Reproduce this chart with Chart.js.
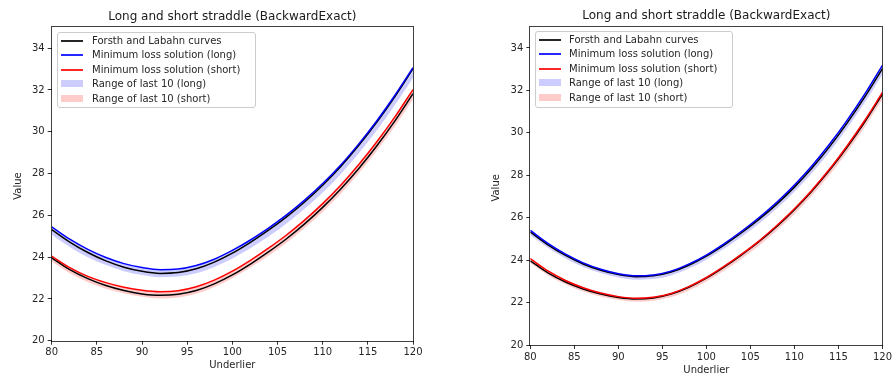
<!DOCTYPE html>
<html>
<head>
<meta charset="utf-8">
<script src="https://cdn.jsdelivr.net/npm/chart.js@4/dist/chart.umd.min.js"></script>
<style>
  html, body { margin: 0; padding: 0; background: #fff; }
  body { width: 894px; height: 373px; position: relative; overflow: hidden; font-family: 'DejaVu Sans', sans-serif; }
  .wrap { position: absolute; top: 0; height: 373px; }
  .legend {
    position: absolute; box-sizing: border-box;
    background: rgba(255,255,255,0.8); border: 1px solid #cccccc; border-radius: 3px;
    font-size: 10px; color: #262626;
  }
  .lg-row { position: absolute; left: 0; right: 0; height: 14px; }
  .lg-line { position: absolute; width: 22px; height: 2px; top: 6px; opacity: 0.85; }
  .lg-patch { position: absolute; width: 22px; height: 7px; top: 3px; box-sizing: border-box; }
  .lg-text { position: absolute; top: 0; line-height: 13px; white-space: nowrap; }
</style>
</head>
<body>
<div class="wrap" style="left:0;width:440px"><canvas id="chartLeft" width="440" height="373"></canvas></div>
<div class="wrap" style="left:470px;width:424px"><canvas id="chartRight" width="424" height="373"></canvas></div>
<div class="legend" id="legendLeft" style="left:57px;top:32px;width:199px;height:76px"></div>
<div class="legend" id="legendRight" style="left:535px;top:31px;width:198px;height:77px"></div>

<script>
// ── DATA ──
const underlier = [80, 82, 84, 86, 88, 90, 92, 94, 96, 98, 100, 102, 104, 106, 108, 110, 112, 114, 116, 118, 120];
const xTicks = [80, 85, 90, 95, 100, 105, 110, 115, 120];
const yTicks = [20, 22, 24, 26, 28, 30, 32, 34];

// Forsth and Labahn curves (same in both panels)
const flLong  = [25.32, 24.72, 24.22, 23.82, 23.52, 23.32, 23.22, 23.26, 23.44, 23.76, 24.19, 24.71, 25.29, 25.93, 26.64, 27.44, 28.34, 29.35, 30.47, 31.69, 33.02];
const flShort = [23.97, 23.40, 22.97, 22.64, 22.40, 22.24, 22.17, 22.22, 22.40, 22.72, 23.15, 23.67, 24.25, 24.88, 25.59, 26.38, 27.26, 28.24, 29.33, 30.52, 31.82];

// left panel
const longL    = [25.45, 24.86, 24.37, 23.98, 23.69, 23.50, 23.40, 23.43, 23.60, 23.90, 24.32, 24.82, 25.39, 26.02, 26.73, 27.52, 28.41, 29.42, 30.53, 31.75, 33.07];
const longLHi  = [25.42, 24.83, 24.34, 23.95, 23.66, 23.47, 23.37, 23.40, 23.57, 23.87, 24.29, 24.79, 25.36, 25.99, 26.70, 27.49, 28.38, 29.39, 30.50, 31.72, 33.04];
const longLLo  = [25.07, 24.49, 24.00, 23.62, 23.33, 23.14, 23.04, 23.07, 23.23, 23.53, 23.94, 24.43, 24.99, 25.61, 26.31, 27.09, 27.97, 28.97, 30.07, 31.28, 32.59];
const shortL   = [24.05, 23.50, 23.08, 22.78, 22.56, 22.41, 22.34, 22.39, 22.58, 22.90, 23.33, 23.85, 24.43, 25.06, 25.77, 26.56, 27.44, 28.43, 29.52, 30.71, 32.02];
const shortLHi = [24.03, 23.48, 23.06, 22.76, 22.54, 22.39, 22.32, 22.37, 22.56, 22.88, 23.31, 23.83, 24.41, 25.04, 25.75, 26.54, 27.42, 28.41, 29.50, 30.69, 32.00];
const shortLLo = [23.79, 23.23, 22.80, 22.49, 22.26, 22.10, 22.02, 22.07, 22.25, 22.57, 22.99, 23.50, 24.07, 24.69, 25.39, 26.16, 27.03, 28.01, 29.09, 30.26, 31.56];

// right panel
const longR    = [25.40, 24.79, 24.28, 23.87, 23.57, 23.36, 23.26, 23.30, 23.48, 23.81, 24.24, 24.77, 25.36, 26.01, 26.73, 27.54, 28.45, 29.47, 30.60, 31.83, 33.18];
const longRHi  = [25.44, 24.83, 24.32, 23.91, 23.61, 23.40, 23.30, 23.34, 23.52, 23.85, 24.28, 24.81, 25.40, 26.05, 26.77, 27.58, 28.49, 29.51, 30.64, 31.87, 33.22];
const longRLo  = [25.18, 24.58, 24.08, 23.68, 23.39, 23.18, 23.08, 23.11, 23.28, 23.60, 24.02, 24.53, 25.10, 25.73, 26.43, 27.22, 28.11, 29.11, 30.22, 31.43, 32.75];
const shortR   = [24.07, 23.49, 23.04, 22.70, 22.45, 22.28, 22.20, 22.25, 22.43, 22.75, 23.18, 23.70, 24.28, 24.91, 25.63, 26.42, 27.31, 28.29, 29.39, 30.59, 31.90];
const shortRHi = [24.10, 23.52, 23.07, 22.73, 22.48, 22.31, 22.23, 22.28, 22.46, 22.78, 23.21, 23.73, 24.31, 24.94, 25.66, 26.45, 27.34, 28.32, 29.42, 30.62, 31.93];
const shortRLo = [23.86, 23.29, 22.85, 22.52, 22.28, 22.12, 22.04, 22.09, 22.26, 22.57, 22.99, 23.50, 24.07, 24.69, 25.40, 26.17, 27.05, 28.02, 29.10, 30.29, 31.58];

const legendLabels = [
  'Forsth and Labahn curves',
  'Minimum loss solution (long)',
  'Minimum loss solution (short)',
  'Range of last 10 (long)',
  'Range of last 10 (short)'
];
const titleText = 'Long and short straddle (BackwardExact)';

const BLUE = '#0000ff', RED = '#ff0000', BLACK = '#000000';
const BLUE_FILL = 'rgba(0,0,255,0.2)', RED_FILL = 'rgba(255,0,0,0.2)';
const FONT = "'DejaVu Sans', sans-serif";

const pts = arr => arr.map((v, i) => ({ x: underlier[i], y: v }));

function line(data, color, order) {
  return { data: pts(data), borderColor: color, borderWidth: 1.5, pointRadius: 0,
           fill: false, cubicInterpolationMode: 'monotone', order };
}
function band(data, color, fill) {
  return { data: pts(data), borderWidth: 0, borderColor: 'transparent', backgroundColor: color,
           pointRadius: 0, fill, cubicInterpolationMode: 'monotone', order: 10 };
}

// frame + title + axis labels drawn around the chart area, like matplotlib axes
const axesDeco = {
  id: 'axesDeco',
  afterDraw(chart) {
    const { ctx, chartArea: a } = chart;
    ctx.save();
    ctx.strokeStyle = 'rgba(0,0,0,0.75)';
    ctx.lineWidth = 1;
    ctx.strokeRect(Math.round(a.left) - 0.5, Math.round(a.top) - 0.5,
                   Math.round(a.right) - Math.round(a.left) + 1, Math.round(a.bottom) - Math.round(a.top) + 1);
    const cx = (a.left + a.right) / 2;
    ctx.fillStyle = '#1a1a1a';
    ctx.textAlign = 'center';
    ctx.textBaseline = 'middle';
    ctx.font = '12px ' + FONT;
    ctx.fillText(titleText, cx, a.top - 10.5);
    ctx.fillStyle = '#262626';
    ctx.font = '10px ' + FONT;
    ctx.fillText('Underlier', cx, a.bottom + 25);
    ctx.translate(a.left - 33.5, (a.top + a.bottom) / 2 + 2);
    ctx.rotate(-Math.PI / 2);
    ctx.fillText('Value', 0, 0);
    ctx.restore();
  }
};

function makeChart(id, box, series) {
  const [lHi, lLo, sHi, sLo, lng, sht] = series;
  new Chart(document.getElementById(id), {
    type: 'line',
    data: {
      datasets: [
        band(lHi, BLUE_FILL, '+1'),
        band(lLo, 'transparent', false),
        band(sHi, RED_FILL, '+1'),
        band(sLo, 'transparent', false),
        line(flLong, BLACK, 3),
        line(flShort, BLACK, 3),
        line(lng, BLUE, 2),
        line(sht, RED, 2),
      ]
    },
    options: {
      responsive: false,
      animation: false,
      events: [],
      layout: { padding: { left: 0, right: box.padRight, top: box.top, bottom: 0 } },
      plugins: { legend: { display: false }, tooltip: { enabled: false }, title: { display: false } },
      scales: {
        x: {
          type: 'linear', min: 80, max: 120,
          afterBuildTicks: s => { s.ticks = xTicks.map(v => ({ value: v })); },
          afterFit: s => { s.height = box.xHeight; },
          grid: { drawOnChartArea: false, drawTicks: true, tickLength: 4, tickColor: '#333', lineWidth: 1 },
          border: { display: false },
          ticks: { color: '#262626', font: { family: FONT, size: 10 }, padding: 2, maxRotation: 0 }
        },
        y: {
          type: 'linear', min: 20, max: 35,
          afterBuildTicks: s => { s.ticks = yTicks.map(v => ({ value: v })); },
          afterFit: s => { s.width = box.yWidth; },
          grid: { drawOnChartArea: false, drawTicks: true, tickLength: 4, tickColor: '#333', lineWidth: 1 },
          border: { display: false },
          ticks: { color: '#262626', font: { family: FONT, size: 10 }, padding: 3 }
        }
      }
    },
    plugins: [axesDeco]
  });
}

function makeLegend(id, sampleLeft, textLeft) {
  const kinds = [['line', BLACK], ['line', BLUE], ['line', RED], ['patch', BLUE_FILL], ['patch', RED_FILL]];
  document.getElementById(id).innerHTML = legendLabels.map((lbl, i) => {
    const [k, c] = kinds[i];
    const sample = k === 'line'
      ? `<div class="lg-line" style="left:${sampleLeft}px;background:${c}"></div>`
      : `<div class="lg-patch" style="left:${sampleLeft}px;background:${c}"></div>`;
    return `<div class="lg-row" style="top:${Math.round(1 + i * 14.4)}px">${sample}<div class="lg-text" style="left:${textLeft}px">${lbl}</div></div>`;
  }).join('');
}

makeChart('chartLeft', { padRight: 27, top: 27.3, yWidth: 51.7, xHeight: 32.3 },
  [longLHi, longLLo, shortLHi, shortLLo, longL, shortL]);
makeChart('chartRight', { padRight: 6.3, top: 26.7, yWidth: 60.3, xHeight: 28 },
  [longRHi, longRLo, shortRHi, shortRLo, longR, shortR]);

makeLegend('legendLeft', 3, 34);
makeLegend('legendRight', 3, 33);
</script>
</body>
</html>
